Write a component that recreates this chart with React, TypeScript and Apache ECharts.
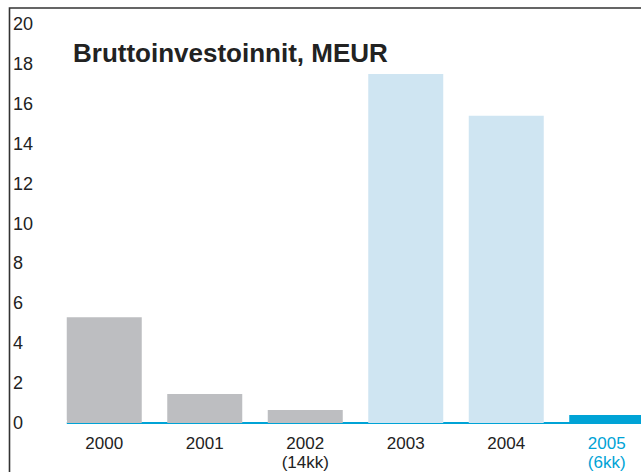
import React, { useEffect, useRef } from "react";
import * as echarts from "echarts";

const years = ["2000", "2001", "2002", "2003", "2004", "2005"];
const notes = ["", "", "(14kk)", "", "", "(6kk)"];
const values = [5.3, 1.45, 0.65, 17.5, 15.4, 0.4];
const yTicks = { min: 0, max: 20, interval: 2 };
const titleText = "Bruttoinvestoinnit, MEUR";

const GRAY = "#bdbec1";
const LIGHT = "#cfe5f2";
const BLUE = "#00a3d6";
const barColors = [GRAY, GRAY, GRAY, LIGHT, LIGHT, BLUE];
const FONT = "'Liberation Sans', Arial, Helvetica, sans-serif";

export default function App() {
  const ref = useRef<HTMLDivElement>(null);
  useEffect(() => {
    if (!ref.current) return;
    const chart = echarts.init(ref.current, null, { renderer: "svg" });
    chart.setOption({
      animation: false,
      backgroundColor: "#ffffff",
      grid: { left: 54, top: 24, width: 603, height: 400, containLabel: false },
      xAxis: {
        type: "category",
        data: years.map((y, i) => (notes[i] ? y + "\n" + notes[i] : y)),
        axisLine: { show: true, lineStyle: { color: BLUE, width: 2 } },
        axisTick: { show: false },
        splitLine: { show: false },
        axisLabel: {
          interval: 0,
          margin: 11,
          fontSize: 17,
          lineHeight: 19,
          fontFamily: FONT,
          color: (_v: string, i: number) => (i === 5 ? BLUE : "#222222"),
        },
      },
      yAxis: {
        type: "value",
        min: yTicks.min,
        max: yTicks.max,
        interval: yTicks.interval,
        axisLine: { show: false },
        axisTick: { show: false },
        splitLine: { show: false },
        axisLabel: {
          align: "left",
          margin: 41,
          fontSize: 18,
          fontFamily: FONT,
          color: "#222222",
        },
      },
      series: [
        {
          type: "bar",
          barWidth: 75,
          data: values.map((v, i) => ({ value: v, itemStyle: { color: barColors[i] } })),
        },
      ],
      graphic: [
        {
          type: "rect",
          z: 100,
          shape: { x: 50, y: 420, width: 16.8, height: 8 },
          style: { fill: "#ffffff" },
        },
        {
          type: "polyline",
          z: 100,
          shape: { points: [[9.5, 472], [9.5, 8], [641, 8]] },
          style: { stroke: "#333333", lineWidth: 1.6, fill: "none" },
        },
        {
          type: "text",
          z: 100,
          x: 73,
          y: 53,
          style: {
            text: titleText,
            font: `bold 26px ${FONT}`,
            fill: "#222222",
            textVerticalAlign: "middle",
            textAlign: "left",
          },
        },
      ],
    });
    return () => chart.dispose();
  }, []);
  return (
    <div
      style={{ position: "fixed", left: 0, top: 0, width: 641, height: 472, overflow: "hidden" }}
    >
      <div ref={ref} style={{ width: 700, height: 472 }} />
    </div>
  );
}
